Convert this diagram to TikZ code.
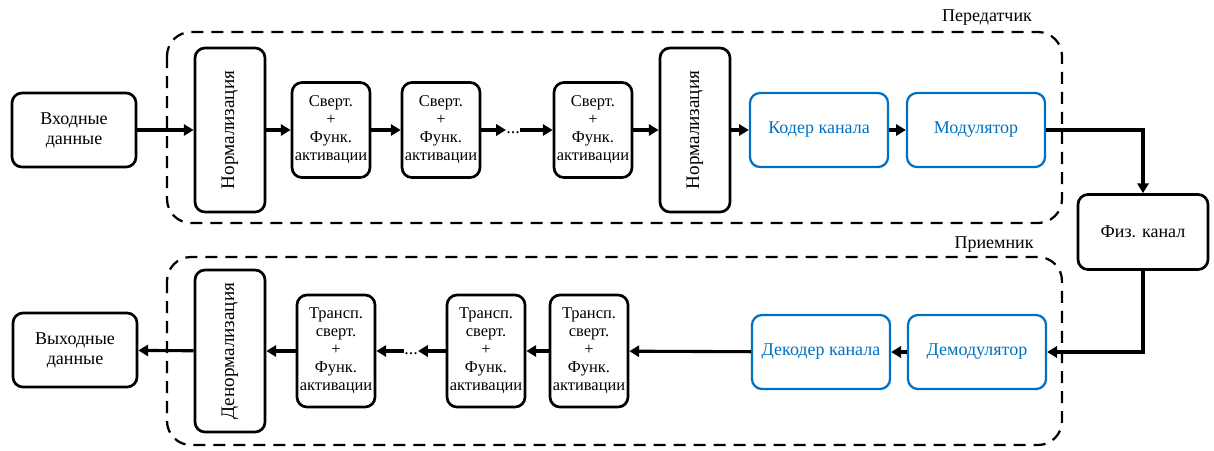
\documentclass[tikz,border=0pt]{standalone}
\usepackage{fontspec}
\setmainfont{Liberation Serif}
\usetikzlibrary{arrows.meta}

\definecolor{chanblue}{RGB}{0,112,192}

\tikzset{
	blk/.style = {draw, line width=1.9pt, rounded corners=0.25cm, align=center, inner sep=0pt,
		font=\fontsize{12.8}{14.2}\selectfont},
	databox/.style = {blk, minimum width=3.1cm, minimum height=1.85cm},
	normbox/.style = {blk, minimum width=1.75cm, minimum height=4.1cm,
		font=\fontsize{13.6}{15}\selectfont},
	convbox/.style = {blk, minimum width=1.95cm, minimum height=2.375cm,
		font=\fontsize{11.7}{12.8}\selectfont},
	tconvbox/.style = {convbox, minimum height=2.8cm},
	chanbox/.style = {blk, draw=chanblue, text=chanblue, line width=1.6pt,
		minimum width=3.45cm, minimum height=1.85cm},
	group/.style = {draw, line width=1.6pt, dash pattern=on 0.3cm off 0.2cm, rounded corners=0.6cm},
	sigline/.style = {draw, line width=2.2pt, -{Triangle[length=7pt,width=8pt]}},
	dotsnode/.style = {inner sep=0pt, font=\fontsize{12.8}{14.2}\selectfont},
	grouplabel/.style = {font=\fontsize{12.8}{14.2}\selectfont},
}

\begin{document}
\begin{tikzpicture}[x=0.025cm, y=-0.025cm]
	\useasboundingbox (0,0) rectangle (1214,450);

	% transmitter
	\draw[group] (167,32) rectangle (1062,223);
	\node[grouplabel] (txlabel) at (987,18) {Передатчик};

	\node[databox] (in) at (74,130) {Входные\\данные};
	\node[normbox] (norm1) at (230,130) {\rotatebox{90}{Нормализация}};
	\node[convbox] (conv1) at (331,130) {Сверт.\\+\\Функ.\\активации};
	\node[convbox] (conv2) at (441,130) {Сверт.\\+\\Функ.\\активации};
	\node[dotsnode] (dotsA) at (513,133) {...};
	\node[convbox] (conv3) at (593,130) {Сверт.\\+\\Функ.\\активации};
	\node[normbox] (norm2) at (695,130) {\rotatebox{90}{Нормализация}};
	\node[chanbox] (coder) at (819,130) {Кодер канала};
	\node[chanbox] (mod) at (976,130) {Модулятор};

	\draw[sigline] (in) -- (norm1);
	\draw[sigline] (norm1) -- (conv1);
	\draw[sigline] (conv1) -- (conv2);
	\draw[sigline] (conv2) -- (conv2.east -| dotsA.west);
	\draw[sigline] (dotsA.east |- conv3.west) -- (conv3);
	\draw[sigline] (conv3) -- (norm2);
	\draw[sigline] (norm2) -- (coder);
	\draw[sigline] (coder) -- (mod);

	% channel
	\node[blk, minimum width=3.25cm, minimum height=1.875cm] (phys) at (1143,232) {Физ. канал};
	\draw[sigline] (mod) -| (phys);

	% receiver
	\draw[group] (167,257) rectangle (1062,445);
	\node[grouplabel] (rxlabel) at (994,245) {Приемник};

	\node[chanbox] (demod) at (977,352) {Демодулятор};
	\node[chanbox] (decoder) at (821,352) {Декодер канала};
	\node[tconvbox] (tconv3) at (589,351) {Трансп.\\сверт.\\+\\Функ.\\активации};
	\node[tconvbox] (tconv2) at (486,351) {Трансп.\\сверт.\\+\\Функ.\\активации};
	\node[dotsnode] (dotsB) at (411,354) {...};
	\node[tconvbox] (tconv1) at (336,351) {Трансп.\\сверт.\\+\\Функ.\\активации};
	\node[normbox, minimum height=4.05cm] (denorm) at (230,351) {\rotatebox{90}{Денормализация}};
	\node[databox] (out) at (75,350) {Выходные\\данные};

	\draw[sigline] (phys) |- (demod);
	\draw[sigline] (demod) -- (decoder);
	\draw[sigline] (decoder) -- (tconv3);
	\draw[sigline] (tconv3) -- (tconv2);
	\draw[sigline] (tconv2) -- (tconv2.west -| dotsB.east);
	\draw[sigline] (dotsB.west |- tconv1.east) -- (tconv1);
	\draw[sigline] (tconv1) -- (denorm);
	\draw[sigline] (denorm) -- (out);
\end{tikzpicture}
\end{document}
